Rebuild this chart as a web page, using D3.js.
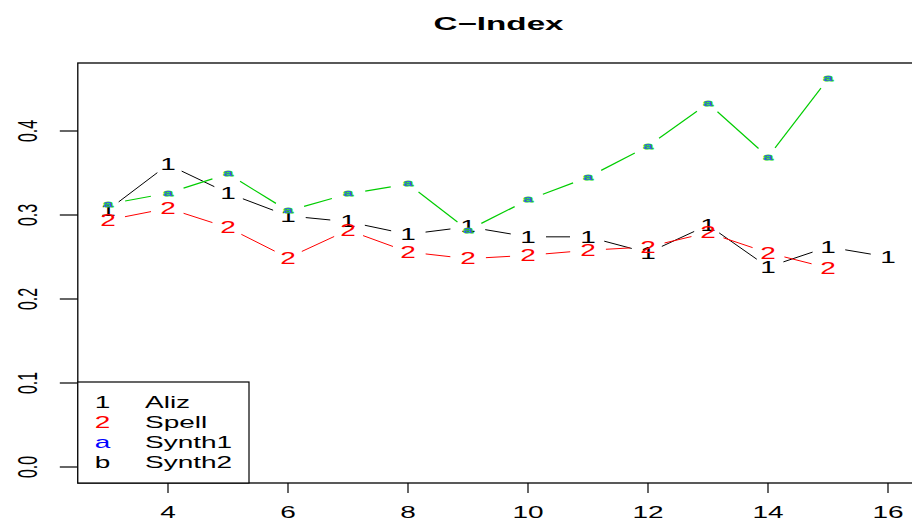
<!DOCTYPE html>
<html><head><meta charset="utf-8">
<script src="https://cdn.jsdelivr.net/npm/d3@7"></script>
<style>body{margin:0;background:#fff}svg{display:block}text{font-family:"Liberation Sans",Arial,Helvetica,sans-serif}</style>
</head><body>
<svg id="c" width="912" height="524"></svg>
<script>
const xs      = [3,4,5,6,7,8,9,10,11,12,13,14,15,16];
const aliz    = [0.306,0.360,0.326,0.299,0.292,0.277,0.286,0.274,0.274,0.255,0.288,0.238,0.262,0.250];
const spell   = [0.294,0.308,0.285,0.249,0.282,0.256,0.248,0.252,0.258,0.262,0.279,0.255,0.237,null];
const synth1  = [0.313,0.326,0.349,0.305,0.325,0.337,0.282,0.318,0.345,0.382,0.433,0.369,0.462,null];
const synth2  = [0.313,0.326,0.349,0.305,0.325,0.337,0.282,0.318,0.345,0.382,0.433,0.369,0.462,null];
const xTicks  = [4,6,8,10,12,14,16];
const yTicks  = [0.0,0.1,0.2,0.3,0.4];
const yTickLabels = ["0.0","0.1","0.2","0.3","0.4"];
const legendLabels = ["Aliz","Spell","Synth1","Synth2"];
const legendSymbols = ["1","2","a","b"];
const title = "C\u2212Index";

const S = 1.75;      // horizontal stretch of text
const svg = d3.select("#c");
const x = d3.scaleLinear().domain([4,16]).range([168,888]);
const y = d3.scaleLinear().domain([0,0.4]).range([467,131]);
const box = {l: x(2.48)+1, r: x(16.52), t: 63, b: 483};

function stxt(g, px, py, str, o={}) {
  const t = g.append("text")
    .attr("transform", `translate(${px},${py}) scale(${S},1)` + (o.rot ? " rotate(-90)" : ""))
    .attr("text-anchor", o.anchor || "middle")
    .attr("font-size", o.size || 16)
    .attr("font-weight", o.bold ? "bold" : "normal")
    .attr("fill", o.fill || "#000")
    .text(str);
  if (o.stroke) t.attr("stroke", o.stroke).attr("stroke-width", o.sw || 0.6);
  return t;
}

// title
stxt(svg, (box.l+box.r)/2, 30, title, {size:19, bold:true});

// box
svg.append("rect").attr("x",box.l).attr("y",box.t).attr("width",box.r-box.l).attr("height",box.b-box.t)
  .attr("fill","none").attr("stroke","#000").attr("stroke-width",1.3);

// x axis
const xa = svg.append("g");
xTicks.forEach(v=>{
  xa.append("line").attr("x1",x(v)).attr("x2",x(v)).attr("y1",box.b).attr("y2",box.b+10).attr("stroke","#000").attr("stroke-width",1.2);
  stxt(xa, x(v), 518, String(v), {size:16});
});
// y axis
const ya = svg.append("g");
yTicks.forEach((v,i)=>{
  ya.append("line").attr("x1",box.l-18).attr("x2",box.l).attr("y1",y(v)).attr("y2",y(v)).attr("stroke","#000").attr("stroke-width",1.2);
  stxt(ya, 37, y(v), yTickLabels[i], {size:16, rot:true});
});

// type="b" lines with gaps
const GAP = 10, GS = 1.8;
function drawB(vals, color, sw) {
  const g = svg.append("g");
  for (let i=0;i<xs.length-1;i++){
    if (vals[i]==null || vals[i+1]==null) continue;
    const x0=x(xs[i]), y0=y(vals[i]), x1=x(xs[i+1]), y1=y(vals[i+1]);
    const dx=(x1-x0)/GS, dy=y1-y0, L=Math.hypot(dx,dy);
    if (L <= 2*GAP) continue;
    const f=GAP/L;
    g.append("line")
      .attr("x1", x0+(x1-x0)*f).attr("y1", y0+(y1-y0)*f)
      .attr("x2", x1-(x1-x0)*f).attr("y2", y1-(y1-y0)*f)
      .attr("stroke", color).attr("stroke-width", sw);
  }
}
function drawPts(vals, ch, color, size, cy, extra={}) {
  const g = svg.append("g");
  vals.forEach((v,i)=>{
    if (v==null) return;
    stxt(g, x(xs[i]), y(v)+cy*size, ch, Object.assign({size, fill:color}, extra));
  });
}

drawB(aliz, "#000", 1);
drawPts(aliz, "1", "#000", 16, 0.358);
drawB(spell, "#FF0000", 1);
drawPts(spell, "2", "#FF0000", 16, 0.358);
drawB(synth2, "#00CD00", 1.2);
drawPts(synth2, "a", "#22DD22", 9.5, 0.26, {stroke:"#22DD22", sw:1.2});
drawPts(synth1, "a", "#4444FF", 9.5, 0.26);

// legend
const lg = svg.append("g");
lg.append("rect").attr("x",box.l).attr("y",382).attr("width",249-box.l).attr("height",box.b-382)
  .attr("fill","#fff").attr("stroke","#000").attr("stroke-width",1.2);
const lcol = ["#000","#FF0000","#0000FF","#000"];
legendLabels.forEach((lab,i)=>{
  const by = 408 + i*20;
  stxt(lg, 102.5, by, legendSymbols[i], {size:16, fill:lcol[i]});
  stxt(lg, 145, by, lab, {size:16, anchor:"start"});
});
</script>
</body></html>
